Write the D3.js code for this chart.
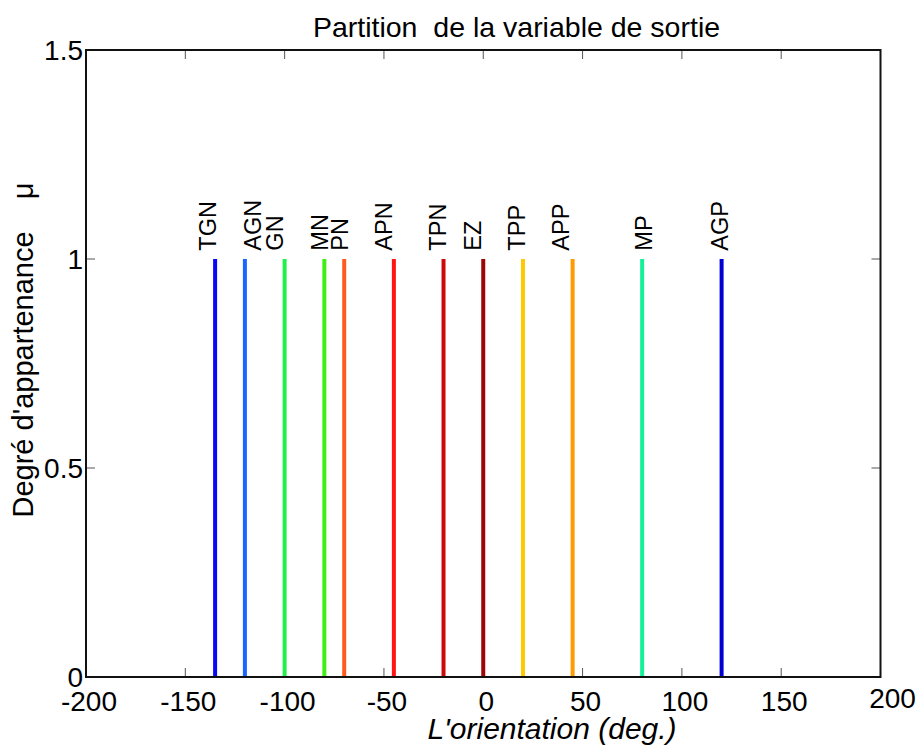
<!DOCTYPE html>
<html>
<head>
<meta charset="utf-8">
<script src="https://cdn.jsdelivr.net/npm/d3@7"></script>
<style>
  html, body { margin: 0; padding: 0; background: #fff; }
  svg { display: block; font-family: "Liberation Sans", Arial, sans-serif; }
  text.pre { white-space: pre; }
</style>
</head>
<body>
<svg id="chart" width="922" height="749"></svg>
<script>
// Singleton fuzzy sets of the output variable (orientation, degrees)
const categories = ["TGN", "AGN", "GN", "MN", "PN", "APN", "TPN", "EZ", "TPP", "APP", "MP", "AGP"];
const centers    = [-135, -120, -100, -80, -70, -45, -20, 0, 20, 45, 80, 120];
const membership = [1, 1, 1, 1, 1, 1, 1, 1, 1, 1, 1, 1];
// where each set name is written along the x axis
const labelAt    = [-134.5, -112, -101, -78, -68, -46, -19, -1, 21, 43, 85, 123];
const setColors  = ["#0808f8", "#1a66ff", "#22f04a", "#40ee14", "#ff5a1e", "#ff1414",
                    "#cc0a0a", "#9c0606", "#ffc800", "#ff9a00", "#14f09a", "#0000d2"];
const xTicks = [-200, -150, -100, -50, 0, 50, 100, 150, 200];
const yTicks = [0, 0.5, 1, 1.5];
const yTickText = ["0", "0.5", "1", "1.5"];

const svg = d3.select("#chart");
const x = d3.scaleLinear().domain([-200, 200]).range([86, 880.5]);
const y = d3.scaleLinear().domain([0, 1.5]).range([677, 50]);

// tick marks pointing inward on all four sides
const tickLen = 9;
const tg = svg.append("g").attr("stroke", "#555").attr("stroke-width", 1);
xTicks.forEach(v => {
  tg.append("line").attr("x1", x(v)).attr("x2", x(v)).attr("y1", y(0)).attr("y2", y(0) - tickLen);
  tg.append("line").attr("x1", x(v)).attr("x2", x(v)).attr("y1", y(1.5)).attr("y2", y(1.5) + tickLen);
});
yTicks.forEach(v => {
  tg.append("line").attr("x1", x(-200)).attr("x2", x(-200) + tickLen).attr("y1", y(v)).attr("y2", y(v));
  tg.append("line").attr("x1", x(200)).attr("x2", x(200) - tickLen).attr("y1", y(v)).attr("y2", y(v));
});

// singleton spikes
const spike = d3.line().x(d => x(d[0])).y(d => y(d[1]));
svg.append("g").selectAll("path")
  .data(categories.map((c, i) => ({ name: c, at: centers[i], mu: membership[i], color: setColors[i] })))
  .join("path")
  .attr("d", d => spike([[d.at, 0], [d.at, d.mu]]))
  .attr("stroke", d => d.color)
  .attr("stroke-width", 4)
  .attr("fill", "none");

// set names, written bottom-to-top just above each spike
svg.append("g").selectAll("text")
  .data(categories.map((c, i) => ({ name: c, at: labelAt[i], mu: membership[i] })))
  .join("text")
  .attr("transform", d => `translate(${x(d.at)},${y(d.mu * 1.02)}) rotate(-90)`)
  .attr("font-size", 23.5)
  .attr("fill", "#000")
  .text(d => d.name);

// frame
svg.append("rect")
  .attr("x", x(-200)).attr("y", y(1.5))
  .attr("width", x(200) - x(-200)).attr("height", y(0) - y(1.5))
  .attr("fill", "none").attr("stroke", "#111").attr("stroke-width", 2);

// x tick labels
svg.append("g").selectAll("text")
  .data(xTicks)
  .join("text")
  .attr("x", (d, i) => x(d) + (i === xTicks.length - 1 ? 12 : 3))
  .attr("y", (d, i) => i === xTicks.length - 1 ? 708 : 711)
  .attr("text-anchor", "middle")
  .attr("font-size", 28)
  .text(d => d);

// y tick labels
svg.append("g").selectAll("text")
  .data(yTicks)
  .join("text")
  .attr("x", 83)
  .attr("y", d => y(d) + 10)
  .attr("text-anchor", "end")
  .attr("font-size", 28)
  .text((d, i) => yTickText[i]);

// title and axis labels
svg.append("text")
  .attr("class", "pre")
  .attr("x", 516.5).attr("y", 37)
  .attr("text-anchor", "middle")
  .attr("font-size", 28.5)
  .text("Partition  de la variable de sortie");

svg.append("text")
  .attr("x", 552).attr("y", 739)
  .attr("text-anchor", "middle")
  .attr("font-size", 30)
  .attr("font-style", "italic")
  .text("L'orientation (deg.)");

svg.append("text")
  .attr("class", "pre")
  .attr("transform", "translate(33,350) rotate(-90)")
  .attr("text-anchor", "middle")
  .attr("font-size", 29)
  .text("Degré d'appartenance    μ");
</script>
</body>
</html>
